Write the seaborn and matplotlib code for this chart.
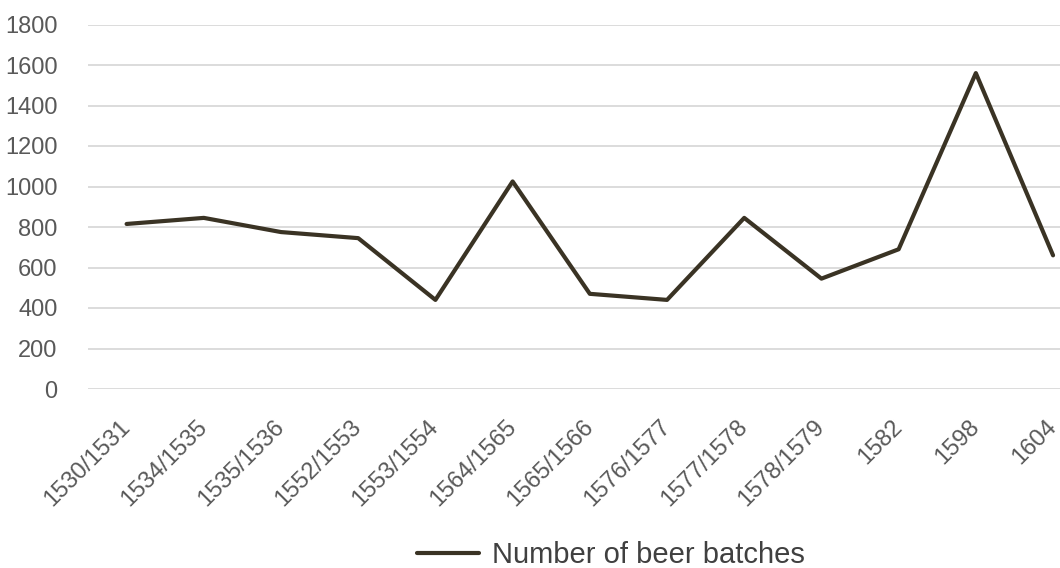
import matplotlib
matplotlib.use("Agg")
import matplotlib.pyplot as plt
import seaborn as sns
import pandas as pd

# Brewing records: number of beer batches per accounting year
years = ["1530/1531", "1534/1535", "1535/1536", "1552/1553", "1553/1554",
         "1564/1565", "1565/1566", "1576/1577", "1577/1578", "1578/1579",
         "1582", "1598", "1604"]
batches = [815, 845, 775, 745, 440, 1025, 470, 440, 845, 545, 690, 1560, 660]
y_ticks = [0, 200, 400, 600, 800, 1000, 1200, 1400, 1600, 1800]
series_name = "Number of beer batches"

df = pd.DataFrame({"year": years, "batches": batches})

sns.set_theme(style="white")
plt.rcParams["font.family"] = ["Liberation Sans", "DejaVu Sans"]

line_color = "#3a3324"
text_color = "#595959"

fig = plt.figure(figsize=(10.6, 5.68), dpi=100)
ax = fig.add_axes([88 / 1060, 179 / 568, 972 / 1060, 364.5 / 568])

sns.lineplot(data=df, x="year", y="batches", sort=False, ax=ax,
             color=line_color, linewidth=3.0, label=series_name, legend=False)

ax.set_ylim(0, 1800)
ax.set_yticks(y_ticks)
ax.set_xlim(-0.5, 12.09)
ax.set_xlabel("")
ax.set_ylabel("")

ax.grid(axis="y", color="#d9d9d9", linewidth=1.3)
ax.grid(axis="x", visible=False)
ax.set_axisbelow(True)
for s in ax.spines.values():
    s.set_visible(False)

ax.tick_params(axis="y", length=0, pad=22, labelsize=17, labelcolor=text_color)
ax.tick_params(axis="x", length=0, pad=25, labelsize=17, labelcolor=text_color)
for lbl in ax.get_xticklabels():
    lbl.set_rotation(45)
    lbl.set_ha("right")
    lbl.set_va("center")
    lbl.set_rotation_mode("anchor")

handles, labels = ax.get_legend_handles_labels()
fig.legend(handles, labels, loc="center", bbox_to_anchor=(611 / 1060, 1 - 555 / 568),
           frameon=False, fontsize=21, handlelength=2.1, handletextpad=0.45,
           labelcolor="#404040", borderaxespad=0, borderpad=0.2)

fig.savefig("out.png", dpi=100, facecolor="white")
